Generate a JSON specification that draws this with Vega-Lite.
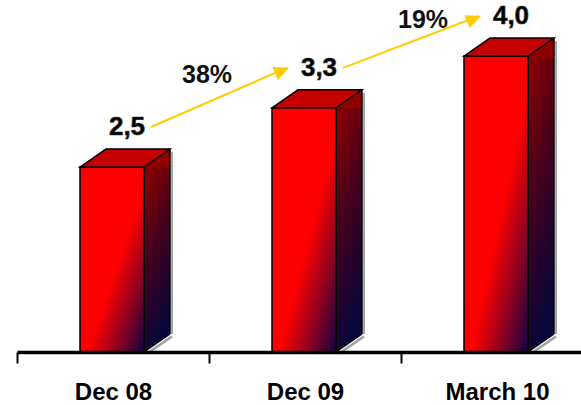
{
  "$schema": "https://vega.github.io/schema/vega-lite/v6.json",
  "width": 564,
  "height": 352,
  "autosize": {"type": "none"},
  "padding": {"left": 17, "top": 0, "right": 0, "bottom": 53},
  "background": "white",
  "config": {
    "view": {"stroke": null},
    "font": "Liberation Sans",
    "locale": {"number": {"decimal": ",", "thousands": ".", "grouping": [3], "currency": ["", " €"]}}
  },
  "datasets": {
    "bars": [
      {"period": "Dec 08", "value": 2.5},
      {"period": "Dec 09", "value": 3.3},
      {"period": "March 10", "value": 4.0}
    ],
    "growth": [
      {"from": "Dec 08", "to": "Dec 09", "growth": 0.38},
      {"from": "Dec 09", "to": "March 10", "growth": 0.19}
    ]
  },
  "data": {"name": "bars"},
  "encoding": {
    "x": {
      "field": "period", "type": "nominal", "title": null,
      "scale": {"type": "band", "domain": ["Dec 08", "Dec 09", "March 10"], "range": [0, 576], "paddingInner": 0, "paddingOuter": 0},
      "axis": {
        "title": null, "grid": false, "zindex": 1, "labelAngle": 0,
        "domainColor": "black", "domainWidth": 3.5, "domainCap": "butt",
        "tickColor": "black", "tickWidth": 2, "tickSize": 11, "tickBand": "extent",
        "labelFont": "Liberation Sans", "labelFontSize": 24, "labelFontWeight": "bold",
        "labelColor": "black", "labelPadding": 17
      }
    },
    "y": {
      "field": "value", "type": "quantitative",
      "scale": {"domain": [0, 4.757], "nice": false, "zero": true},
      "axis": null
    }
  },
  "layer": [
    {
      "mark": {"type": "rule", "color": "#a8a8a8", "strokeWidth": 2, "xOffset": 59, "yOffset": -15, "y2Offset": -15},
      "encoding": {"y2": {"datum": 0}}
    },
    {
      "mark": {
        "type": "bar", "width": 26, "xOffset": 44, "stroke": "black", "strokeWidth": 1.5,
        "fill": {"gradient": "linear", "x1": 0, "y1": 0, "x2": 0.3, "y2": 1,
          "stops": [{"offset": 0, "color": "#8e0000"}, {"offset": 0.5, "color": "#45001c"}, {"offset": 1, "color": "#08063a"}]}
      }
    },
    {
      "mark": {
        "type": "bar", "width": 64, "xOffset": -1, "stroke": "black", "strokeWidth": 1.5,
        "fill": {"gradient": "linear", "x1": 0, "y1": 0, "x2": 1, "y2": 1,
          "stops": [{"offset": 0, "color": "#ff0000"}, {"offset": 0.55, "color": "#ff0000"}, {"offset": 0.78, "color": "#8c0022"}, {"offset": 1, "color": "#120040"}]}
      }
    },
    {
      "mark": {"type": "point", "shape": "M-33,0 L31,0 L57,-18 L-7,-18 Z", "size": 4, "filled": true, "fill": "#c40000", "strokeWidth": 0, "opacity": 1}
    },
    {
      "mark": {"type": "point", "shape": "M31,1 L31,0 L57,-18 L57,1 Z", "size": 4, "filled": true, "fill": "#8e0000", "strokeWidth": 0, "opacity": 1}
    },
    {
      "mark": {"type": "point", "shape": "M-33,0 L-7,-18 L57,-18 L31,0 Z M57,-18 L57,0", "size": 4, "filled": false, "stroke": "black", "strokeWidth": 1.5, "opacity": 1}
    },
    {
      "mark": {"type": "point", "shape": "M31,0 L57,-18 L62,-18 L62,3 L31,3 Z", "size": 4, "filled": true, "fill": "white", "strokeWidth": 0, "opacity": 1},
      "encoding": {"y": {"datum": 0}}
    },
    {
      "mark": {"type": "point", "shape": "M34,1.5 L59,-15.5", "size": 4, "filled": false, "stroke": "#a0a0a0", "strokeWidth": 2.5, "opacity": 1},
      "encoding": {"y": {"datum": 0}}
    },
    {
      "mark": {"type": "point", "shape": "M31,0 L57,-18", "size": 4, "filled": false, "stroke": "black", "strokeWidth": 1.5, "opacity": 1},
      "encoding": {"y": {"datum": 0}}
    },
    {
      "data": {"name": "growth"},
      "transform": [
        {"lookup": "from", "from": {"data": {"name": "bars"}, "key": "period", "fields": ["value"]}, "as": ["fromValue"]},
        {"lookup": "to", "from": {"data": {"name": "bars"}, "key": "period", "fields": ["value"]}, "as": ["toValue"]}
      ],
      "layer": [
        {
          "mark": {"type": "rule", "color": "#ffcc00", "strokeWidth": 2, "xOffset": 38, "x2Offset": -18, "yOffset": -40, "y2Offset": -40},
          "encoding": {
            "x": {"field": "from", "type": "nominal"},
            "x2": {"field": "to"},
            "y": {"field": "fromValue", "type": "quantitative"},
            "y2": {"field": "toValue"}
          }
        },
        {
          "mark": {"type": "point", "shape": "M0,0 L-15,-7 L-15,7 Z", "size": 4, "angle": -22, "filled": true, "fill": "#ffcc00", "strokeWidth": 0, "opacity": 1, "xOffset": -16, "yOffset": -40},
          "encoding": {
            "x": {"field": "to", "type": "nominal"},
            "y": {"field": "toValue", "type": "quantitative"}
          }
        },
        {
          "transform": [{"filter": "datum.from === 'Dec 08'"}],
          "mark": {"type": "text", "font": "Liberation Sans", "fontSize": 25, "fontWeight": "bold", "color": "#111111", "dx": 94, "dy": -92, "baseline": "middle"},
          "encoding": {
            "x": {"field": "from", "type": "nominal"},
            "y": {"field": "fromValue", "type": "quantitative"},
            "text": {"field": "growth", "type": "quantitative", "format": ".0%"}
          }
        },
        {
          "transform": [{"filter": "datum.from === 'Dec 09'"}],
          "mark": {"type": "text", "font": "Liberation Sans", "fontSize": 25, "fontWeight": "bold", "color": "#111111", "dx": 118, "dy": -88, "baseline": "middle"},
          "encoding": {
            "x": {"field": "from", "type": "nominal"},
            "y": {"field": "fromValue", "type": "quantitative"},
            "text": {"field": "growth", "type": "quantitative", "format": ".0%"}
          }
        }
      ]
    },
    {
      "mark": {"type": "text", "font": "Liberation Sans", "fontSize": 26, "fontWeight": "bold", "color": "black", "stroke": "#333333", "strokeWidth": 0.6, "dx": 14, "dy": -40, "baseline": "middle"},
      "encoding": {"text": {"field": "value", "type": "quantitative", "format": ".1f"}}
    }
  ]
}
